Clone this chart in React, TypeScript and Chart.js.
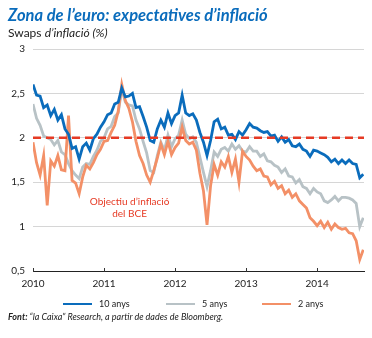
import React, { useEffect, useRef } from "react";
import { Chart, registerables } from "chart.js";

Chart.register(...registerables);

const START_YEAR = 2010;
const STEP = 0.05; // years between observations (approx. 2.5 weeks)
const X_MAX = 2014.66;

const Y_TICKS = [0.5, 1, 1.5, 2, 2.5, 3];
const YEAR_TICKS = [2010, 2011, 2012, 2013, 2014];
const TARGET = 2;

const SERIES_LABELS = ["10 anys", "5 anys", "2 anys"];

const swap10y = [
  2.6, 2.48, 2.47, 2.34, 2.37, 2.25, 2.32, 2.2, 2.26, 2.1,
  2.04, 1.88, 1.9, 1.76, 1.9, 1.94, 1.86, 1.99, 2.04, 2.12,
  2.18, 2.26, 2.28, 2.38, 2.4, 2.56, 2.46, 2.47, 2.5, 2.34,
  2.35, 2.24, 2.12, 1.97, 1.95, 2.1, 2.2, 2.12, 2.28, 2.16,
  2.25, 2.28, 2.48, 2.28, 2.25, 2.27, 2.2, 2.06, 1.95, 1.8,
  1.97, 2.18, 2.21, 2.1, 2.12, 2.03, 2.04, 1.98, 2.07, 2.03,
  2.09, 2.16, 2.12, 2.11, 2.08, 2.06, 2.07, 2.02, 2.03, 1.96,
  2.01, 1.95, 1.98, 1.91, 1.9, 1.93, 1.87, 1.85, 1.79, 1.86,
  1.85, 1.83, 1.81, 1.78, 1.73, 1.76, 1.71, 1.75, 1.71, 1.75,
  1.71, 1.7, 1.55, 1.59,
];

const swap5y = [
  2.38, 2.22, 2.14, 2.02, 2.0, 1.98, 1.92, 1.97, 1.84, 1.81,
  1.71, 1.63, 1.58, 1.54, 1.67, 1.71, 1.7, 1.79, 1.86, 1.96,
  2.0, 2.1, 2.13, 2.24, 2.28, 2.55, 2.4, 2.37, 2.36, 2.2,
  2.1, 1.96, 1.83, 1.63, 1.61, 1.8, 1.95, 1.86, 2.03, 1.9,
  1.99, 2.03, 2.2, 2.04, 1.99, 2.01, 1.95, 1.78, 1.61, 1.45,
  1.63, 1.84, 1.79, 1.87, 1.89, 1.85, 1.93, 1.87, 1.91, 1.85,
  1.84, 1.9, 1.85, 1.85, 1.79, 1.82, 1.74, 1.73, 1.69, 1.67,
  1.61, 1.65, 1.57, 1.56, 1.49, 1.53, 1.45, 1.43, 1.37, 1.43,
  1.39, 1.37, 1.29, 1.27, 1.3, 1.34, 1.29, 1.33, 1.33, 1.32,
  1.3, 1.26, 1.0, 1.1,
];

const swap2y = [
  1.95, 1.72, 1.58, 1.8, 1.24, 1.74, 1.68, 1.8, 1.64, 1.63,
  2.25, 1.52, 1.49, 1.37, 1.56, 1.69, 1.65, 1.72, 1.81, 1.87,
  1.96, 1.97, 2.06, 2.14, 2.3, 2.6, 2.42, 2.33, 2.18, 1.96,
  1.8, 1.71, 1.58, 1.5, 1.63, 1.77, 1.93, 1.81, 1.96, 1.81,
  1.89, 1.94, 2.12, 1.97, 1.93, 1.95, 1.86, 1.6, 1.4, 1.02,
  1.46, 1.7, 1.58, 1.73, 1.67, 1.79, 1.61, 1.76, 1.5, 1.85,
  1.79, 1.75, 1.68, 1.63, 1.65, 1.57, 1.56, 1.47, 1.51, 1.43,
  1.46, 1.37, 1.41, 1.33, 1.37, 1.29, 1.25, 1.21, 1.1, 1.06,
  1.01, 1.06, 0.99, 1.05, 0.97, 1.03, 0.99, 0.97, 0.98, 0.93,
  0.92, 0.84, 0.63, 0.74,
];

const BLUE = "#0a6cbc";
const GRAY = "#b8c2c6";
const ORANGE = "#f39067";
const RED = "#e63a24";
const FONT = "Lato, 'Open Sans', sans-serif";

const toPoints = (vals: number[]) =>
  vals.map((v, i) => ({ x: START_YEAR + i * STEP, y: v }));

const overlayPlugin = {
  id: "overlay",
  afterDatasetsDraw(chart: any) {
    const { ctx, scales } = chart;
    const xs = scales.x;
    const ys = scales.y;
    ctx.save();
    ctx.strokeStyle = "#333";
    ctx.lineWidth = 1;
    const yb = ys.getPixelForValue(Y_TICKS[0]);
    YEAR_TICKS.forEach((yr) => {
      const px = Math.round(xs.getPixelForValue(yr)) + 0.5;
      ctx.beginPath();
      ctx.moveTo(px, yb - 3);
      ctx.lineTo(px, yb + 1);
      ctx.stroke();
    });
    ctx.fillStyle = RED;
    ctx.font = `10px ${FONT}`;
    ctx.textAlign = "center";
    ctx.textBaseline = "middle";
    const ax = xs.getPixelForValue(2011.36);
    ctx.fillText("Objectiu d’inflació", ax, ys.getPixelForValue(1.28));
    ctx.fillText("del BCE", ax, ys.getPixelForValue(1.14));
    ctx.restore();
  },
};

export default function App() {
  const canvasRef = useRef<HTMLCanvasElement | null>(null);

  useEffect(() => {
    if (!canvasRef.current) return;
    const lineDs = (label: string, data: number[], color: string, order: number) => ({
      label,
      data: toPoints(data),
      borderColor: color,
      backgroundColor: color,
      borderWidth: 2.8,
      pointRadius: 0,
      tension: 0,
      order,
    });
    const chart = new Chart(canvasRef.current, {
      type: "line",
      data: {
        datasets: [
          {
            label: "Objectiu BCE",
            data: [
              { x: START_YEAR, y: TARGET },
              { x: X_MAX, y: TARGET },
            ],
            borderColor: RED,
            borderWidth: 2.6,
            borderDash: [8, 5],
            pointRadius: 0,
            order: 0,
          } as any,
          lineDs(SERIES_LABELS[0], swap10y, BLUE, 1),
          lineDs(SERIES_LABELS[2], swap2y, ORANGE, 2),
          lineDs(SERIES_LABELS[1], swap5y, GRAY, 3),
        ],
      },
      options: {
        animation: false,
        responsive: false,
        maintainAspectRatio: false,
        layout: { padding: { top: 49, right: 8, bottom: 0, left: 0 } },
        plugins: {
          legend: { display: false },
          tooltip: { enabled: false },
          title: { display: false },
        },
        scales: {
          x: {
            type: "linear",
            min: START_YEAR,
            max: X_MAX,
            grid: { display: false, drawTicks: false },
            border: { display: true, color: "#222", width: 1 },
            ticks: {
              stepSize: 1,
              includeBounds: false,
              padding: 7,
              color: "#222",
              font: { family: FONT, size: 10 },
              callback: (v: any) => String(v),
            },
            afterFit: (s: any) => {
              s.height = 67;
            },
          },
          y: {
            min: 0.5,
            max: 3,
            grid: { color: "#d6d6d6", lineWidth: 1, drawTicks: false },
            border: { display: false },
            ticks: {
              stepSize: 0.5,
              padding: 8,
              color: "#222",
              font: { family: FONT, size: 10 },
              callback: (v: any) => String(v).replace(".", ","),
            },
            afterFit: (s: any) => {
              s.width = 33;
            },
          },
        },
      } as any,
      plugins: [overlayPlugin],
    });
    return () => chart.destroy();
  }, []);

  const legendItem = (label: string, color: string, left: number) => (
    <div
      key={label}
      style={{
        position: "absolute",
        left,
        top: 298,
        display: "flex",
        alignItems: "center",
        fontFamily: FONT,
        fontSize: 9,
        color: "#222",
      }}
    >
      <span
        style={{
          display: "inline-block",
          width: 29,
          height: 2,
          background: color,
          marginRight: 7,
        }}
      />
      <span>{label}</span>
    </div>
  );

  return (
    <div
      style={{
        position: "absolute",
        left: 0,
        top: 0,
        width: 372,
        height: 338,
        background: "#fff",
        overflow: "hidden",
      }}
    >
      <canvas
        ref={canvasRef}
        width={372}
        height={338}
        style={{ position: "absolute", left: 0, top: 0, width: 372, height: 338 }}
      />
      <div
        style={{
          position: "absolute",
          left: 8,
          top: 5,
          fontFamily: FONT,
          fontSize: 16.5,
          fontWeight: 700,
          fontStyle: "italic",
          color: BLUE,
          whiteSpace: "nowrap",
        }}
      >
        Zona de l’euro: expectatives d’inflació
      </div>
      <div
        style={{
          position: "absolute",
          left: 8,
          top: 25,
          fontFamily: FONT,
          fontSize: 12,
          color: "#222",
          whiteSpace: "nowrap",
        }}
      >
        Swaps <span style={{ fontStyle: "italic" }}>d’inflació (%)</span>
      </div>
      {legendItem(SERIES_LABELS[0], BLUE, 63)}
      {legendItem(SERIES_LABELS[1], GRAY, 166)}
      {legendItem(SERIES_LABELS[2], ORANGE, 262)}
      <div
        style={{
          position: "absolute",
          left: 8,
          top: 311,
          fontFamily: FONT,
          fontSize: 9,
          fontStyle: "italic",
          color: "#222",
          whiteSpace: "nowrap",
        }}
      >
        <span style={{ fontWeight: 700 }}>Font:</span> “la Caixa” Research, a partir de dades de
        Bloomberg.
      </div>
    </div>
  );
}
